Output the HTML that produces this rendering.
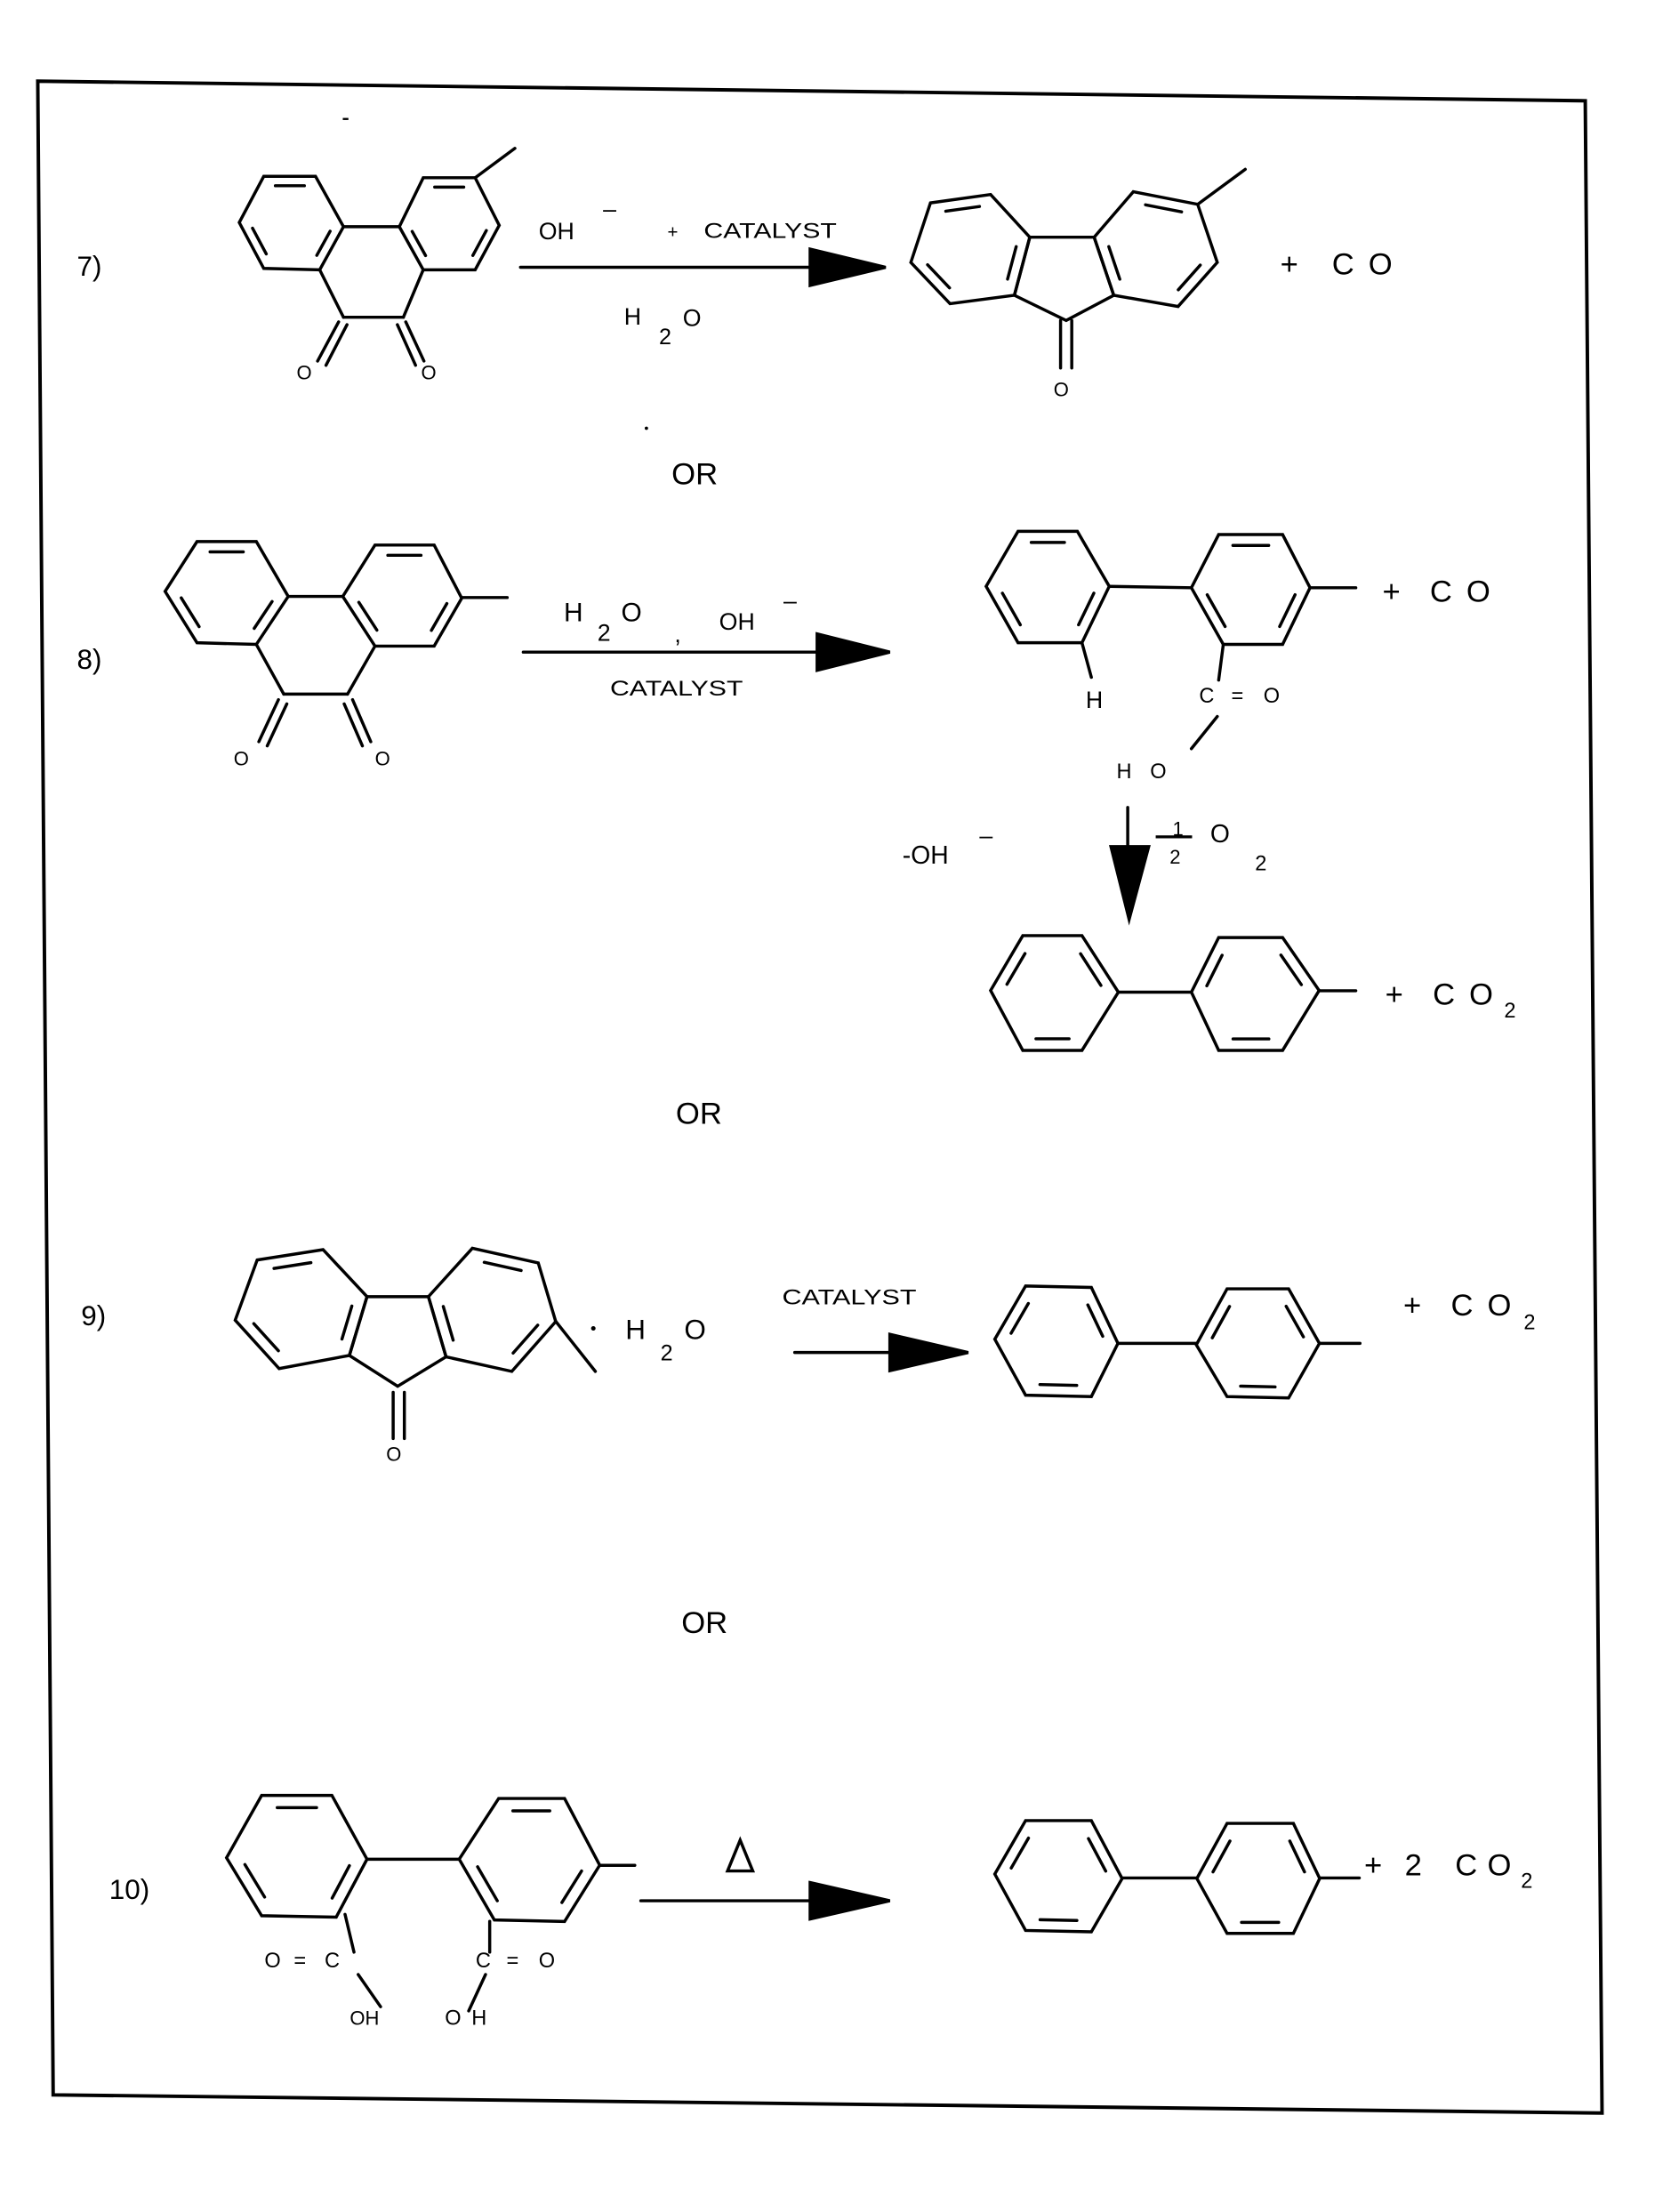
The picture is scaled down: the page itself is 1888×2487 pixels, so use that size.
<!DOCTYPE html>
<html><head><meta charset="utf-8"><style>
html,body{margin:0;padding:0;background:#fff;}
svg{display:block;}
text{font-family:"Liberation Sans",sans-serif;fill:#000;}
</style></head><body>
<svg id="s" width="1888" height="2487" viewBox="0 0 1200 1580.7" xmlns="http://www.w3.org/2000/svg">
<rect x="0" y="0" width="1200" height="1581" fill="#fff"/>
<polygon points="27,58 1133,72 1145,1510 38,1497" fill="none" stroke="#000" stroke-width="2.5"/>
<line x1="245" y1="85" x2="249" y2="85" stroke="#000" stroke-width="1.5"/>
<circle cx="462" cy="306" r="1.2" fill="#000"/>
<g id="g" stroke="#000" stroke-width="2.2" fill="none" stroke-linecap="round"></g>
<g id="t">
<!-- row 7 -->
<text x="55" y="197" font-size="20">7)</text>
<text x="385" y="171" font-size="17">OH</text>
<text x="431" y="155" font-size="17">–</text>
<text x="477" y="170" font-size="13">+</text>
<text x="503" y="170" font-size="15" textLength="95" lengthAdjust="spacingAndGlyphs">CATALYST</text>
<text x="446" y="232" font-size="17">H</text>
<text x="471" y="246" font-size="16">2</text>
<text x="488" y="233" font-size="17">O</text>
<text x="212" y="271" font-size="14">O</text>
<text x="301" y="271" font-size="14">O</text>
<text x="753" y="283" font-size="14">O</text>
<text x="915" y="196" font-size="22">+</text>
<text x="952" y="196" font-size="22">C</text>
<text x="978" y="196" font-size="22">O</text>
<text x="480" y="346" font-size="22">OR</text>
<!-- row 8 -->
<text x="55" y="478" font-size="20">8)</text>
<text x="167" y="547" font-size="14">O</text>
<text x="268" y="547" font-size="14">O</text>
<text x="403" y="444" font-size="19">H</text>
<text x="427" y="458" font-size="17">2</text>
<text x="444" y="444" font-size="19">O</text>
<text x="482" y="459" font-size="17">,</text>
<text x="514" y="450" font-size="17">OH</text>
<text x="560" y="435" font-size="17">–</text>
<text x="436" y="497" font-size="15" textLength="95" lengthAdjust="spacingAndGlyphs">CATALYST</text>
<text x="776" y="506" font-size="17">H</text>
<text x="857" y="502" font-size="15">C</text>
<text x="880" y="502" font-size="15">=</text>
<text x="903" y="502" font-size="15">O</text>
<text x="798" y="556" font-size="15">H</text>
<text x="822" y="556" font-size="15">O</text>
<text x="988" y="430" font-size="22">+</text>
<text x="1022" y="430" font-size="22">C</text>
<text x="1048" y="430" font-size="22">O</text>
<text x="645" y="617" font-size="18">-OH</text>
<text x="700" y="603" font-size="17">–</text>
<text x="838" y="597" font-size="14">1</text>
<line x1="826" y1="598" x2="852" y2="598" stroke="#000" stroke-width="2"/>
<text x="836" y="617" font-size="14">2</text>
<text x="865" y="602" font-size="18">O</text>
<text x="897" y="622" font-size="15">2</text>
<text x="990" y="718" font-size="22">+</text>
<text x="1024" y="718" font-size="22">C</text>
<text x="1050" y="718" font-size="22">O</text>
<text x="1075" y="727" font-size="15">2</text>
<text x="483" y="803" font-size="22">OR</text>
<!-- row 9 -->
<text x="58" y="947" font-size="20">9)</text>
<text x="422" y="953" font-size="12">•</text>
<text x="447" y="957" font-size="20">H</text>
<text x="472" y="972" font-size="16">2</text>
<text x="489" y="957" font-size="20">O</text>
<text x="559" y="932" font-size="15" textLength="96" lengthAdjust="spacingAndGlyphs">CATALYST</text>
<text x="276" y="1044" font-size="14">O</text>
<text x="1003" y="940" font-size="22">+</text>
<text x="1037" y="940" font-size="22">C</text>
<text x="1063" y="940" font-size="22">O</text>
<text x="1089" y="950" font-size="15">2</text>
<text x="487" y="1167" font-size="22">OR</text>
<!-- row 10 -->
<text x="78" y="1357" font-size="20">10)</text>
<text x="189" y="1406" font-size="15">O</text>
<text x="210" y="1406" font-size="15">=</text>
<text x="232" y="1406" font-size="15">C</text>
<text x="340" y="1406" font-size="15">C</text>
<text x="362" y="1406" font-size="15">=</text>
<text x="385" y="1406" font-size="15">O</text>
<text x="250" y="1447" font-size="14">OH</text>
<text x="318" y="1447" font-size="15">O</text>
<text x="337" y="1447" font-size="15">H</text>
<text x="975" y="1340" font-size="22">+</text>
<text x="1004" y="1340" font-size="22">2</text>
<text x="1040" y="1340" font-size="22">C</text>
<text x="1063" y="1340" font-size="22">O</text>
<text x="1087" y="1349" font-size="15">2</text>
</g>
</svg>
<script>
var g=document.getElementById('g');var NS='http://www.w3.org/2000/svg';
function L(a,b,c,d){var e=document.createElementNS(NS,'line');e.setAttribute('x1',a);e.setAttribute('y1',b);e.setAttribute('x2',c);e.setAttribute('y2',d);g.appendChild(e);}
function P(pts,fill){var e=document.createElementNS(NS,'polygon');e.setAttribute('points',pts.map(function(p){return p.join(',')}).join(' '));if(fill){e.setAttribute('fill','#000');}g.appendChild(e);}
function ring(pts,dbl){P(pts);var cx=0,cy=0;pts.forEach(function(p){cx+=p[0];cy+=p[1]});cx/=pts.length;cy/=pts.length;
(dbl||[]).forEach(function(i){var a=pts[i],b=pts[(i+1)%pts.length];
var ax=a[0]+(cx-a[0])*0.2,ay=a[1]+(cy-a[1])*0.2,bx=b[0]+(cx-b[0])*0.2,by=b[1]+(cy-b[1])*0.2;
var dx=bx-ax,dy=by-ay;L(ax+dx*0.15,ay+dy*0.15,bx-dx*0.15,by-dy*0.15);});}
function arrowH(x1,x2,y,hx,hw){L(x1,y,hx,y);P([[hx,y-hw],[x2,y],[hx,y+hw]],1);}
// row 7 phenanthrenequinone
ring([[188.5,126],[225.5,126],[245.5,162],[228.5,192.8],[188.5,191.8],[171,159]],[0,2,4]);
ring([[302.5,127],[339.6,127],[356.8,161],[339.6,192.8],[302.5,192.8],[285.4,162]],[0,2,4]);
L(245.5,162,285.4,162);L(228.5,192.8,245.5,226.7);L(302.5,192.8,288.3,226.7);L(245.5,226.7,288.3,226.7);
L(242,230,227,258);L(248,232,233,261);L(290,230,303,258);L(284,232,297,261);
L(339.6,127,368,106);
arrowH(372,633,191,579,13);
// fluorenone row 7
ring([[665,145],[708,139],[736,169.5],[725,211],[679,217],[651,187.5]],[0,2,4]);
ring([[810,137],[856,146],[870,187.5],[842,219],[796,211],[782,169.5]],[0,2,4]);
P([[736,169.5],[782,169.5],[796,211],[762,229],[725,211]]);
L(758,229,758,263);L(766,229,766,263);L(856,146,890,121);
// row 8
ring([[140.8,387],[183.2,387],[206,426.2],[183.2,460.5],[140.8,459.3],[118,422.6]],[0,2,4]);
ring([[268,389.5],[310.3,389.5],[330,427.5],[310.3,461.7],[268,461.7],[245,426.2]],[0,2,4]);
L(206,426.2,245,426.2);L(183.2,460.5,202.8,496);L(268,461.7,248.4,496);L(202.8,496,248.4,496);
L(199,500,185,530);L(205,503,191,533);L(252,500,265,530);L(246,503,259,533);
L(330,427,362.5,427);
arrowH(374,636,466,584,13);
ring([[727.6,379.7],[770,379.7],[792.8,419],[773.3,459.3],[727.6,459.3],[704.8,419]],[0,2,4]);
ring([[871,382],[916.7,382],[936.3,420],[916.7,460.5],[874.3,460.5],[851.5,420]],[0,2,4]);
L(792.8,419,851.5,420);L(936.3,420,969,420);L(773.3,459.3,780,484);L(874.3,460.5,871,486);L(870,512,851.5,535);
L(806,577,806,605);P([[794,605],[821,605],[807,657]],1);
ring([[731,668.6],[773.3,668.6],[799.3,709],[773.3,750.6],[731,750.6],[708,707.8]],[1,3,5]);
ring([[871,670],[916.7,670],[942.8,707.8],[916.7,750.6],[871,750.6],[851.5,709]],[1,3,5]);
L(799.3,709,851.5,709);L(942.8,708,969,708);
// row 9
ring([[183.8,900.4],[230.9,893],[262.3,926.6],[249.7,968.6],[199.5,978],[168.1,943.4]],[0,2,4]);
ring([[306.2,926.6],[337.6,892],[384.7,902.5],[397.2,944.4],[365.8,980],[318.8,969.6]],[1,3,5]);
P([[262.3,926.6],[306.2,926.6],[318.8,969.6],[284.2,990.6],[249.7,968.6]]);
L(397,944,425.5,980);L(281,995,281,1028);L(289,995,289,1028);
arrowH(568,692,966.5,636,13);
ring([[733,919],[780,920],[799,960],[780,998],[733,997],[711,957]],[1,3,5]);
ring([[877,921],[921,921],[943,960],[921,999],[877,998],[855,961]],[1,3,5]);
L(799,960,855,960);L(943,960,972,960);
// row 10
ring([[187,1283],[237.2,1283],[262.3,1328.6],[240.3,1370],[187,1369],[161.9,1327.6]],[0,2,4]);
ring([[356.4,1285.2],[403.5,1285.2],[428.6,1332.9],[403.5,1373.1],[353.3,1372],[328.2,1328.6]],[0,2,4]);
L(262.3,1328.6,328.2,1328.6);L(428.6,1333,453.7,1333);
L(246.6,1368,253,1395);L(256,1411,272,1434);L(350,1373,350,1395);L(347,1411,335,1437);
P([[529,1315],[520,1337],[538,1337]]);
arrowH(458,636,1358.3,579,13);
ring([[733,1301],[780,1301],[802,1342.4],[780,1380.5],[733,1379.5],[711,1339.2]],[1,3,5]);
ring([[877,1303],[924.4,1303],[943.2,1342.4],[924.4,1381.6],[877,1381.6],[855.4,1342.4]],[1,3,5]);
L(802,1342,855.4,1342);L(943.2,1342,971.5,1342);
</script>
</body></html>
